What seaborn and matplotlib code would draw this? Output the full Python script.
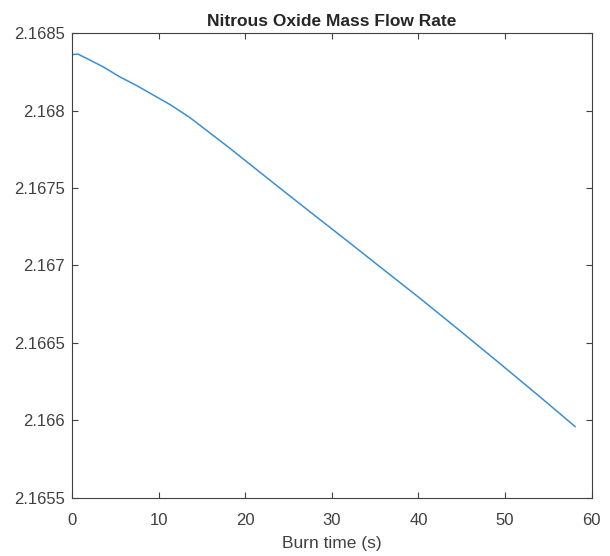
import numpy as np
import pandas as pd
import matplotlib
matplotlib.use("Agg")
import matplotlib.pyplot as plt
import seaborn as sns

# values
burn_time = [0, 0.7, 2, 3.6, 5.5, 7.5, 11.3, 13.6, 18, 24, 28, 32, 36, 40, 44.5, 49.4, 54, 58.1]
mass_flow = [2.168361, 2.168364, 2.168328, 2.168282, 2.168218, 2.168160, 2.168039, 2.167955,
             2.167766, 2.167499, 2.167323, 2.167148, 2.166971, 2.166795, 2.166591, 2.166366,
             2.166152, 2.165958]
x_ticks = [0, 10, 20, 30, 40, 50, 60]
y_ticks = [2.1655, 2.166, 2.1665, 2.167, 2.1675, 2.168, 2.1685]
y_tick_labels = ["2.1655", "2.166", "2.1665", "2.167", "2.1675", "2.168", "2.1685"]

df = pd.DataFrame({"t": burn_time, "mdot": mass_flow})

sns.set_style("white")
plt.rcParams['font.family'] = ['Liberation Sans', 'DejaVu Sans']

fig = plt.figure(figsize=(6.1, 5.56), dpi=100)
ax = fig.add_axes([0.118, 0.105, 0.852, 0.8355])
sns.lineplot(data=df, x="t", y="mdot", ax=ax, color="#3a8fd3", linewidth=1.1)

ax.set_xlim(0, 60)
ax.set_ylim(2.1655, 2.1685)
ax.set_xticks(x_ticks)
ax.set_yticks(y_ticks)
ax.set_yticklabels(y_tick_labels)
ax.tick_params(direction="in", length=4, width=0.8, color="#404040",
               labelsize=12, labelcolor="#404040", top=True, right=True,
               bottom=True, left=True, pad=5)
ax.tick_params(axis="x", pad=11)
for s in ax.spines.values():
    s.set_color("#404040")
    s.set_linewidth(0.8)
ax.set_xlabel("Burn time (s)", fontsize=12.5, color="#404040", labelpad=6)
ax.set_ylabel("")
ax.set_title("Nitrous Oxide Mass Flow Rate", fontsize=12.5, fontweight="bold", pad=5)

fig.savefig("out.png", dpi=100)
